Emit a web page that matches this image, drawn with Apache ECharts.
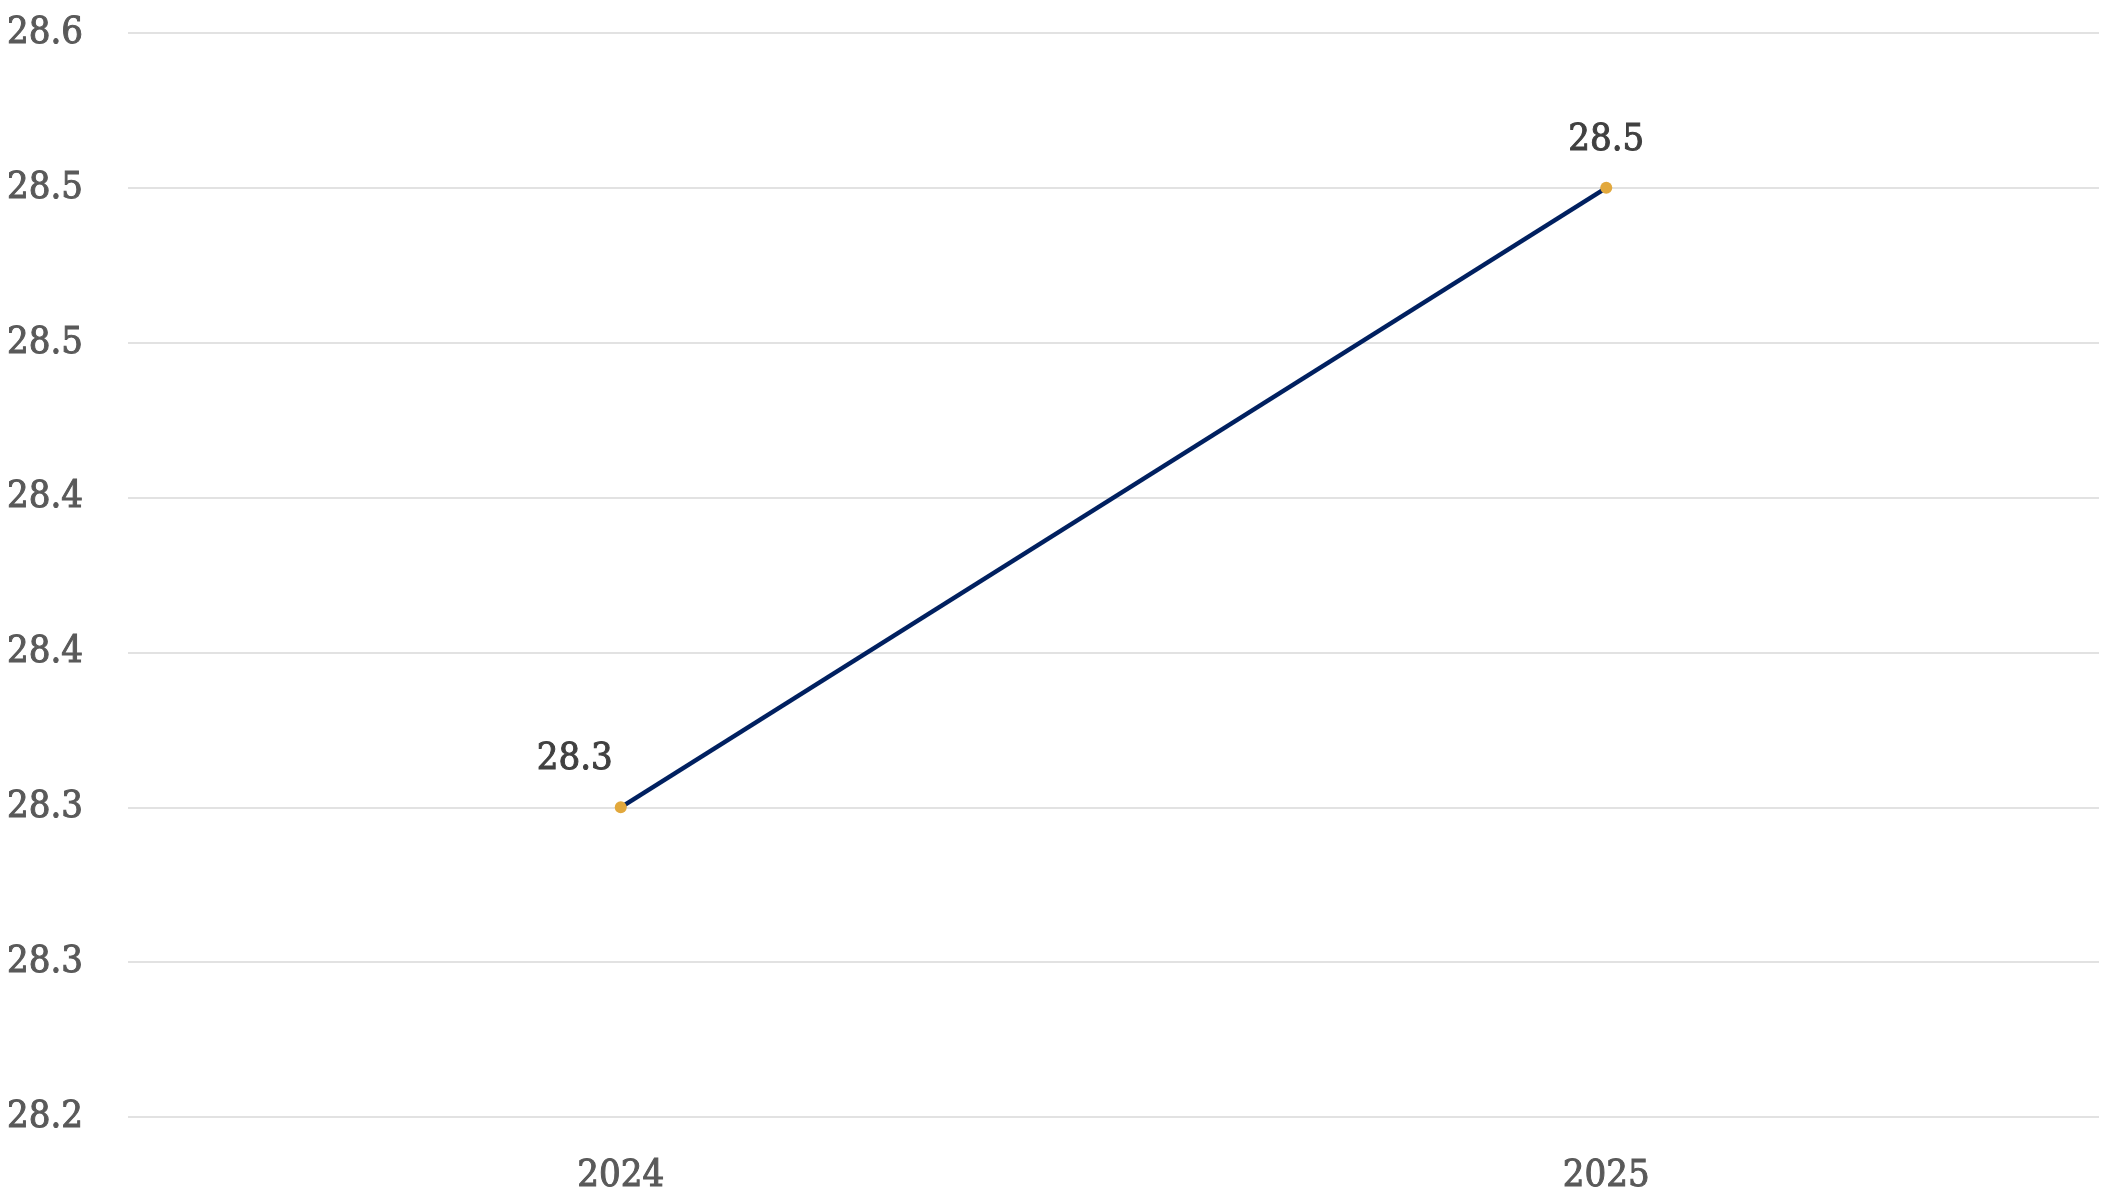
<!DOCTYPE html>
<html>
<head>
<meta charset="utf-8">
<script src="https://cdn.jsdelivr.net/npm/echarts@6/dist/echarts.min.js"></script>
<style>
html,body{margin:0;padding:0;background:#fff;}
#chart{width:2110px;height:1204px;}
</style>
</head>
<body>
<div id="chart"></div>
<script>
const categories = ['2024', '2025'];
const values = [28.3, 28.5];
const yMin = 28.2, yMax = 28.55, yStep = 0.05;

const FONT = '"DejaVu Serif Condensed", "DejaVu Serif", "Liberation Serif", serif';
const chart = echarts.init(document.getElementById('chart'), null, {renderer: 'canvas'});
function fmt(v){ return (Math.round(v * 10 + 1e-6) / 10).toFixed(1); }
chart.setOption({
  animation: false,
  backgroundColor: '#ffffff',
  grid: {left: 128, right: 11, top: 33, bottom: 87, containLabel: false},
  xAxis: {
    type: 'category',
    data: categories,
    boundaryGap: true,
    axisLine: {show: false},
    axisTick: {show: false},
    axisLabel: {color: '#595959', fontFamily: FONT, fontSize: 38, margin: 40,
      textBorderColor: '#595959', textBorderWidth: 1}
  },
  yAxis: {
    type: 'value',
    min: yMin, max: yMax, interval: yStep,
    axisLine: {show: false},
    axisTick: {show: false},
    splitLine: {lineStyle: {color: '#d9d9d9', width: 1.5}},
    axisLabel: {color: '#595959', fontFamily: FONT, fontSize: 38, margin: 45, align: 'right', formatter: fmt,
      textBorderColor: '#595959', textBorderWidth: 1}
  },
  series: [{
    type: 'line',
    data: values.map((v, i) => ({
      value: v,
      label: i === 0 ? {offset: [-46, 0]} : {}
    })),
    lineStyle: {color: '#002060', width: 4.5},
    itemStyle: {color: '#E2A83C'},
    symbol: 'circle',
    symbolSize: 12,
    label: {
      show: true, position: 'top', distance: 23,
      color: '#404040', fontFamily: FONT, fontSize: 38,
      textBorderColor: '#404040', textBorderWidth: 1,
      formatter: p => fmt(p.value)
    }
  }]
});
</script>
</body>
</html>
